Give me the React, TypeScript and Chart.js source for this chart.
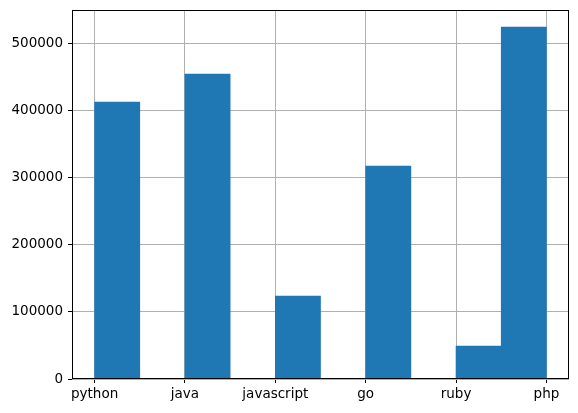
import React, { useEffect, useRef } from "react";
import { Chart, registerables } from "chart.js";

Chart.register(...registerables);

const categories = ["python", "java", "javascript", "go", "ruby", "php"];
const binCenters = [0.25, 0.75, 1.25, 1.75, 2.25, 2.75, 3.25, 3.75, 4.25, 4.75];
const binCounts = [412800, 0, 454500, 0, 123700, 0, 317400, 0, 49200, 524600];
const yTicks = [0, 100000, 200000, 300000, 400000, 500000];

const framePlugin = {
  id: "frame",
  afterDraw(chart: any) {
    const { ctx, chartArea } = chart;
    ctx.save();
    ctx.strokeStyle = "#000";
    ctx.lineWidth = 1;
    ctx.strokeRect(
      Math.round(chartArea.left) + 0.5,
      Math.round(chartArea.top) + 0.5,
      Math.round(chartArea.right - chartArea.left) - 1,
      Math.round(chartArea.bottom - chartArea.top) - 1
    );
    ctx.restore();
  },
};

export default function App() {
  const ref = useRef<HTMLCanvasElement | null>(null);
  useEffect(() => {
    if (!ref.current) return;
    const font = { family: "'DejaVu Sans', sans-serif", size: 13.5 };
    const chart = new Chart(ref.current, {
      type: "bar",
      data: {
        datasets: [
          {
            data: binCenters.map((x, i) => ({ x, y: binCounts[i] })),
            backgroundColor: "#1f77b4",
            borderWidth: 0,
            barPercentage: 1,
            categoryPercentage: 1,
          },
        ],
      },
      options: {
        responsive: false,
        animation: false,
        layout: { padding: { left: 0, right: 9, top: 10, bottom: 0 } },
        plugins: { legend: { display: false }, tooltip: { enabled: false } },
        scales: {
          x: {
            type: "linear",
            min: -0.25,
            max: 5.25,
            offset: false,
            z: 1,
            afterBuildTicks: (scale: any) => {
              scale.ticks = categories.map((_, i) => ({ value: i }));
            },
            afterFit: (scale: any) => {
              scale.height = 34;
            },
            ticks: {
              autoSkip: false,
              maxRotation: 0,
              color: "#000",
              font,
              padding: 3,
              callback: (v: any) => categories[Number(v)] ?? "",
            },
            grid: {
              offset: false,
              color: "#b0b0b0",
              lineWidth: 1,
              tickColor: "#000",
              tickLength: 4,
              drawTicks: true,
            },
            border: { display: false },
          },
          y: {
            type: "linear",
            min: 0,
            max: 550000,
            z: 1,
            afterBuildTicks: (scale: any) => {
              scale.ticks = yTicks.map((v) => ({ value: v }));
            },
            afterFit: (scale: any) => {
              scale.width = 72;
            },
            ticks: {
              color: "#000",
              font: { ...font, lineHeight: 0.6 },
              padding: 5,
              callback: (v: any) => String(v),
            },
            grid: {
              color: "#b0b0b0",
              lineWidth: 1,
              tickColor: "#000",
              tickLength: 4,
              drawTicks: true,
            },
            border: { display: false },
          },
        },
      },
      plugins: [framePlugin],
    } as any);
    return () => chart.destroy();
  }, []);
  return (
    <div style={{ position: "absolute", left: 0, top: 0, width: 578, height: 413, background: "#fff" }}>
      <canvas ref={ref} width={578} height={413} />
    </div>
  );
}
